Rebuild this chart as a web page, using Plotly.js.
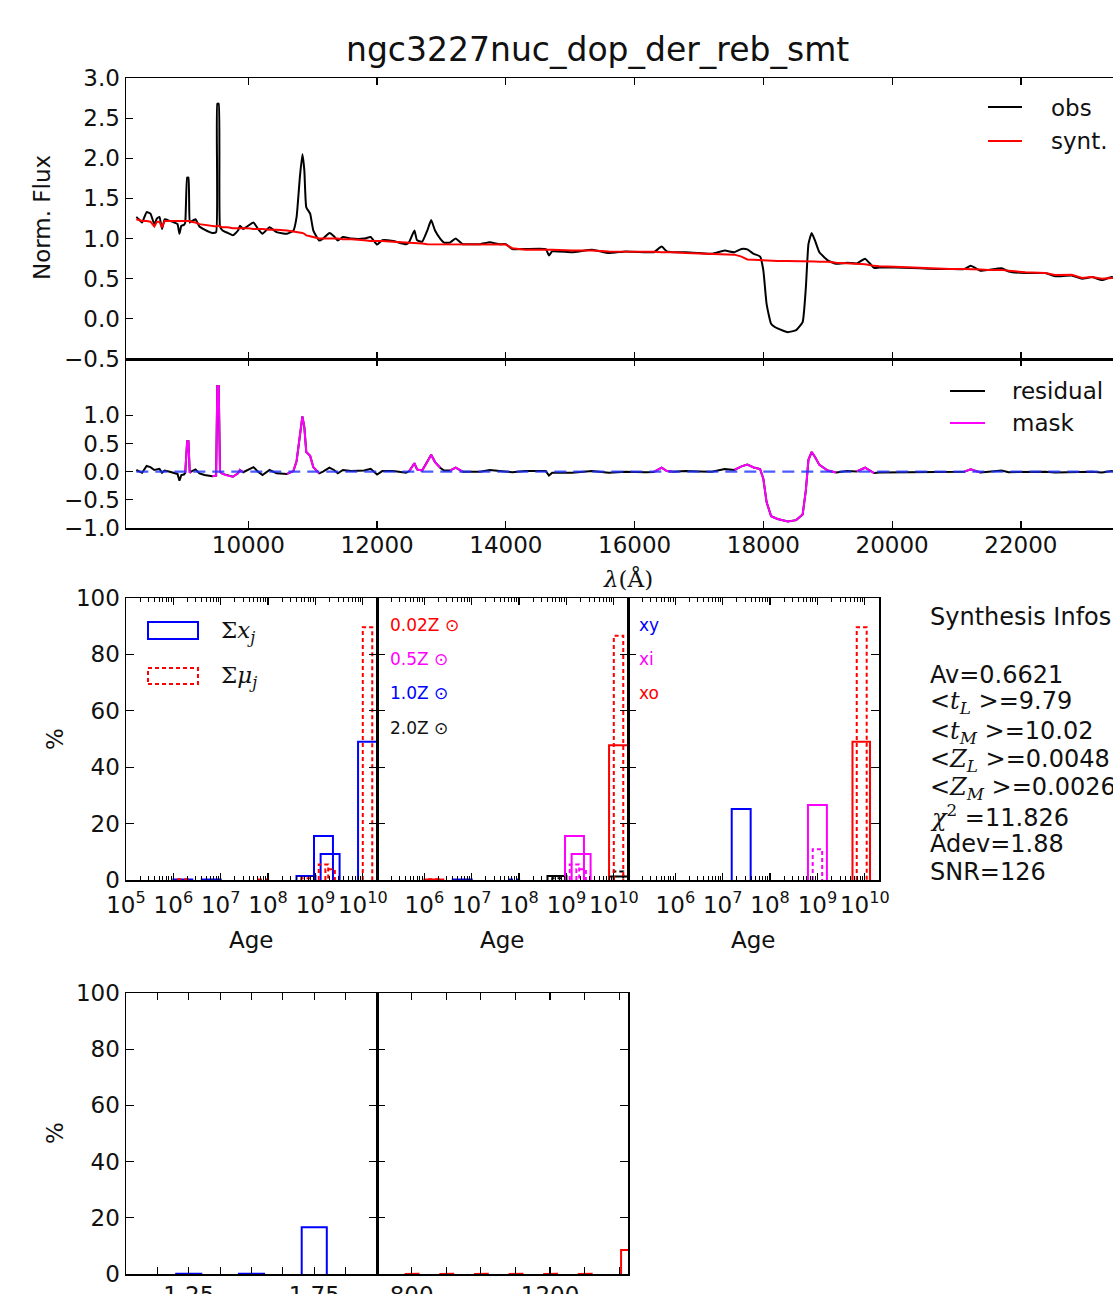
<!DOCTYPE html>
<html>
<head>
<meta charset="utf-8">
<script src="https://cdn.plot.ly/plotly-3.0.1.min.js"></script>
<style>
html,body{margin:0;padding:0;overflow:hidden;background:#fff;}
#chart{width:1195px;height:1340px;}
</style>
</head>
<body>
<div id="chart"></div>
<script>
// ---------------- DATA ----------------
// wavelength grid (Angstrom)
const lambda = [8260,8300,8350,8420,8480,8540,8580,8620,8660,8700,8780,8850,8900,8930,8960,9000,
  9020,9050,9070,9090,9110,9180,9240,9320,9400,9440,9500,9518,9540,9560,9600,9680,9760,9840,9870,9920,
  9980,10080,10150,10220,10330,10440,10600,10700,10750,10800,10840,10870,10900,10960,11010,11100,
  11160,11260,11330,11390,11470,11600,11800,11900,12000,12080,12250,12450,12500,12580,12620,12700,
  12780,12840,12900,12980,13040,13130,13220,13330,13400,13600,13750,13900,14000,14100,14300,14620,
  14670,14720,15030,15340,15600,15860,16170,16300,16420,16500,16600,16790,17000,17200,17400,17550,
  17660,17750,17850,17950,18000,18050,18120,18220,18380,18510,18610,18660,18700,18750,18800,18870,
  19000,19130,19300,19450,19580,19720,19800,20040,20300,20560,20900,21120,21220,21370,21500,21700,
  21810,22070,22380,22530,22790,22950,23100,23260,23410,23600,23800];
// observed normalised flux
const obsFlux = [1.27,1.24,1.20,1.33,1.31,1.18,1.25,1.27,1.12,1.24,1.22,1.20,1.18,1.06,1.16,1.17,
  1.20,1.76,1.76,1.20,1.21,1.24,1.15,1.11,1.08,1.07,1.08,2.68,2.68,1.15,1.10,1.07,1.04,1.10,1.16,1.12,
  1.15,1.20,1.12,1.06,1.14,1.08,1.06,1.10,1.27,1.76,2.05,1.85,1.39,1.31,1.10,0.975,
  1.00,1.07,1.03,0.975,1.02,1.00,1.00,1.02,0.925,0.98,0.97,0.93,0.96,1.10,0.98,0.96,
  1.10,1.23,1.10,1.00,0.95,0.95,1.00,0.93,0.93,0.93,0.955,0.93,0.93,0.87,0.87,0.87,
  0.79,0.84,0.83,0.86,0.82,0.84,0.83,0.83,0.90,0.84,0.83,0.83,0.82,0.81,0.85,0.83,
  0.87,0.865,0.81,0.776,0.60,0.187,-0.06,-0.12,-0.166,-0.14,-0.04,0.39,0.93,1.07,0.98,0.83,
  0.73,0.685,0.70,0.69,0.75,0.635,0.64,0.64,0.635,0.625,0.62,0.62,0.66,0.60,0.61,0.63,
  0.59,0.57,0.57,0.53,0.54,0.50,0.52,0.485,0.52,0.50,0.49];
// synthetic spectrum
const syntFlux = [1.24,1.23,1.22,1.22,1.21,1.15,1.21,1.21,1.14,1.22,1.22,1.22,1.22,1.22,1.22,1.22,
  1.22,1.22,1.22,1.22,1.21,1.20,1.18,1.17,1.16,1.15,1.15,1.16,1.16,1.15,1.14,1.14,1.13,1.13,1.13,1.13,
  1.13,1.12,1.12,1.12,1.11,1.11,1.10,1.09,1.08,1.08,1.07,1.06,1.04,1.03,1.02,1.00,
  1.00,1.00,1.00,1.00,0.99,0.99,0.98,0.97,0.97,0.97,0.96,0.95,0.95,0.95,0.94,0.94,
  0.93,0.93,0.93,0.93,0.93,0.93,0.93,0.93,0.93,0.93,0.93,0.925,0.925,0.88,0.86,0.86,
  0.86,0.86,0.85,0.85,0.84,0.84,0.84,0.835,0.83,0.83,0.83,0.82,0.815,0.81,0.805,0.80,
  0.775,0.74,0.735,0.73,0.73,0.73,0.73,0.72,0.72,0.72,0.72,0.72,0.72,0.72,0.715,0.71,
  0.71,0.70,0.69,0.685,0.68,0.66,0.655,0.65,0.64,0.625,0.62,0.62,0.62,0.615,0.61,0.61,
  0.60,0.58,0.57,0.545,0.55,0.51,0.52,0.50,0.51,0.50,0.49];
// residual (obs - synt)
const residual = [0.03,0.01,-0.02,0.10,0.08,0.03,0.04,0.05,-0.02,0.02,0.00,-0.02,-0.04,-0.16,-0.06,-0.05,
  -0.02,0.54,0.54,-0.02,0.00,0.04,-0.03,-0.06,-0.08,-0.08,-0.07,1.52,1.52,0.00,-0.04,-0.07,-0.09,-0.03,0.03,-0.01,
  0.02,0.08,0.00,-0.06,0.03,-0.03,-0.04,0.01,0.19,0.68,0.98,0.79,0.35,0.28,0.08,-0.03,
  0.00,0.07,0.03,-0.03,0.03,0.01,0.02,0.05,-0.05,0.01,0.01,-0.02,0.01,0.15,0.04,0.02,
  0.17,0.30,0.17,0.07,0.02,0.02,0.07,0.00,0.00,0.00,0.03,0.01,0.01,-0.01,0.01,0.01,
  -0.07,-0.02,-0.02,0.01,-0.02,0.00,-0.01,-0.005,0.07,0.01,0.00,0.01,0.005,0.00,0.045,0.03,
  0.095,0.125,0.075,0.046,-0.13,-0.54,-0.79,-0.84,-0.886,-0.86,-0.76,-0.33,0.21,0.35,0.265,0.12,
  0.02,-0.015,0.01,0.005,0.07,-0.025,-0.015,-0.01,-0.005,0.0,0.0,0.0,0.04,-0.015,0.0,0.02,
  -0.01,-0.01,0.0,-0.015,-0.01,-0.01,0.0,-0.015,0.01,0.0,0.0];
// 1 = masked pixel
const maskFlag = [0,0,0,0,0,0,0,0,0,0,0,0,0,0,0,0,
  1,1,1,1,1,0,0,0,0,1,1,1,1,1,1,1,1,1,1,1,
  0,0,0,0,0,0,1,1,1,1,1,1,1,1,1,1,
  0,0,0,0,0,0,0,0,0,0,0,0,1,1,1,1,
  1,1,1,1,0,1,1,1,0,0,0,0,0,0,0,0,
  0,0,0,0,0,0,0,1,1,1,1,0,0,0,0,1,
  1,1,1,1,1,1,1,1,1,1,1,1,1,1,1,1,
  1,1,0,1,1,1,0,0,0,0,0,1,1,1,0,0,
  0,0,0,0,0,0,0,0,0,0,0];

const specTicks = [10000,12000,14000,16000,18000,20000,22000];

// Population histograms (log age of bin centre, percent)
const allX_age  = [6.2, 6.8, 8.8, 9.17, 9.31, 10.1];
const allX_pct  = [0.2, 0.2, 1.4, 15.6, 9.2, 49.0];
const allMu_age = [6.2, 7.9, 8.8, 9.17, 9.31, 10.1];
const allMu_pct = [0.3, 0.2, 0.6, 5.5, 3.8, 89.6];

const z002X_age = [6.2, 10.1];   const z002X_pct = [0.2, 47.8];
const z002Mu_age = [6.2, 10.1];  const z002Mu_pct = [0.3, 86.6];
const z05X_age = [9.17, 9.31];   const z05X_pct = [15.6, 9.2];
const z05Mu_age = [9.17, 9.31];  const z05Mu_pct = [5.5, 3.8];
const z10X_age = [6.8];          const z10X_pct = [0.2];
const z10Mu_age = [7.9];         const z10Mu_pct = [0.2];
const z20X_age = [8.8, 10.1];    const z20X_pct = [1.4, 1.2];
const z20Mu_age = [8.8, 10.1];   const z20Mu_pct = [0.6, 3.0];

const xyX_age = [7.39];   const xyX_pct = [25.2];
const xiX_age = [9.0];    const xiX_pct = [26.6];
const xiMu_age = [9.0];   const xiMu_pct = [10.9];
const xoX_age = [9.925];  const xoX_pct = [49.0];
const xoMu_age = [9.935]; const xoMu_pct = [89.6];

const ageTickVals = [1e5,1e6,1e7,1e8,1e9,1e10];
const ageTickText1 = ['10<sup>5</sup>','10<sup>6</sup>','10<sup>7</sup>','10<sup>8</sup>','10<sup>9</sup>','10<sup>10</sup>'];
const ageTickText2 = ['','10<sup>6</sup>','10<sup>7</sup>','10<sup>8</sup>','10<sup>9</sup>','10<sup>10</sup>'];

// lower panels
const lowA_val = [1.25, 1.5, 1.75];  const lowA_pct = [0.1, 0.1, 16.6];
const lowB_val = [800, 900, 1000, 1100, 1200, 1300, 1425]; const lowB_pct = [0.05, 0.05, 0.05, 0.05, 0.05, 0.05, 8.5];
const lowATickVals = [1.125,1.25,1.375,1.5,1.625,1.75,1.875];
const lowATickText = ['','1.25','','','','1.75',''];
const lowBTickVals = [700,800,900,1000,1100,1200,1300,1400];
const lowBTickText = ['','800','','','','1200','',''];

const M = s => '<span style="font-family:DejaVu Serif">' + s + '</span>';
const infoLines = ['Synthesis Infos:', '', 'Av=0.6621',
  '&lt;' + M('<i>t</i><sub><i>L</i></sub>') + ' &gt;=9.79',
  '&lt;' + M('<i>t</i><sub><i>M</i></sub>') + ' &gt;=10.02',
  '&lt;' + M('<i>Z</i><sub><i>L</i></sub>') + ' &gt;=0.0048',
  '&lt;' + M('<i>Z</i><sub><i>M</i></sub>') + ' &gt;=0.0026',
  M('<i>χ</i><sup>2</sup>') + ' =11.826', 'Adev=1.88', 'SNR=126'];

// ---------------- LAYOUT HELPERS ----------------
const W = 1195, H = 1340;
const px = x => x / W;
const py = y => 1 - y / H;
const FONT = 'DejaVu Sans, sans-serif';
const SERIF = 'DejaVu Serif, serif';

function barPath(centres, pcts, width, isLog) {
  const xs = [], ys = [];
  centres.forEach((c, i) => {
    const a = c - width / 2, b = c + width / 2;
    const xa = isLog ? Math.pow(10, a) : a, xb = isLog ? Math.pow(10, b) : b;
    xs.push(xa, xa, xb, xb, null);
    ys.push(0, pcts[i], pcts[i], 0, null);
  });
  return {x: xs, y: ys};
}
const SOLID_W = 0.4, DOT_W = 0.2;
function histTrace(centres, pcts, color, dotted, xa, ya, isLog, width) {
  const p = barPath(centres, pcts, width !== undefined ? width : (dotted ? DOT_W : SOLID_W), isLog);
  return {x: p.x, y: p.y, type: 'scatter', mode: 'lines', xaxis: xa, yaxis: ya, showlegend: false,
    hoverinfo: 'skip', connectgaps: false,
    line: {color: color, width: 2, dash: dotted ? '4px,3px' : 'solid'}};
}

const traces = [];
// spectrum
traces.push({x: lambda, y: obsFlux, type: 'scatter', mode: 'lines', xaxis: 'x', yaxis: 'y',
  line: {color: 'black', width: 2, shape: 'spline', smoothing: 0.4}, showlegend: false});
traces.push({x: lambda, y: syntFlux, type: 'scatter', mode: 'lines', xaxis: 'x', yaxis: 'y',
  line: {color: '#ff0000', width: 2}, showlegend: false});
// residual
traces.push({x: lambda, y: residual, type: 'scatter', mode: 'lines', xaxis: 'x2', yaxis: 'y2',
  line: {color: 'black', width: 2}, showlegend: false});
traces.push({x: lambda, y: residual.map((r, i) => maskFlag[i] ? r : null), type: 'scatter', mode: 'lines',
  xaxis: 'x2', yaxis: 'y2', connectgaps: false, line: {color: '#ff00ff', width: 2}, showlegend: false});
traces.push({x: [lambda[0], lambda[lambda.length - 1]], y: [0, 0], type: 'scatter', mode: 'lines',
  xaxis: 'x2', yaxis: 'y2', line: {color: 'rgba(30,50,255,0.8)', width: 2.2, dash: '12px,7px'}, showlegend: false});

// histogram panel 1
traces.push(histTrace(allX_age, allX_pct, '#0000ff', false, 'x3', 'y3', true));
traces.push(histTrace(allMu_age, allMu_pct, '#ff0000', true, 'x3', 'y3', true));
// panel 2 by metallicity
traces.push(histTrace(z10X_age, z10X_pct, '#0000ff', false, 'x4', 'y4', true));
traces.push(histTrace(z10Mu_age, z10Mu_pct, '#0000ff', true, 'x4', 'y4', true));
traces.push(histTrace(z20X_age, z20X_pct, 'black', false, 'x4', 'y4', true));
traces.push(histTrace(z20Mu_age, z20Mu_pct, 'black', true, 'x4', 'y4', true));
traces.push(histTrace(z05X_age, z05X_pct, '#ff00ff', false, 'x4', 'y4', true));
traces.push(histTrace(z05Mu_age, z05Mu_pct, '#ff00ff', true, 'x4', 'y4', true));
traces.push(histTrace(z002X_age, z002X_pct, '#ff0000', false, 'x4', 'y4', true));
traces.push(histTrace(z002Mu_age, z002Mu_pct, '#ff0000', true, 'x4', 'y4', true));
// panel 3 xy / xi / xo
traces.push(histTrace(xyX_age, xyX_pct, '#0000ff', false, 'x5', 'y5', true));
traces.push(histTrace(xiX_age, xiX_pct, '#ff00ff', false, 'x5', 'y5', true));
traces.push(histTrace(xiMu_age, xiMu_pct, '#ff00ff', true, 'x5', 'y5', true));
traces.push(histTrace(xoX_age, xoX_pct, '#ff0000', false, 'x5', 'y5', true, 0.37));
traces.push(histTrace(xoMu_age, xoMu_pct, '#ff0000', true, 'x5', 'y5', true, 0.21));
// lower panels
traces.push(histTrace(lowA_val, lowA_pct, '#0000ff', false, 'x6', 'y6', false, 0.1));
traces.push(histTrace(lowB_val, lowB_pct, '#ff0000', false, 'x7', 'y7', false, 40));

// ---------------- AXES ----------------
const tickFont = {family: FONT, size: 23, color: '#111'};
function ax(extra) {
  return Object.assign({showline: true, linecolor: 'black', linewidth: 1.5, mirror: 'ticks',
    ticks: 'inside', ticklen: 7, tickwidth: 1.2, tickcolor: 'black', showgrid: false, zeroline: false,
    tickfont: tickFont, fixedrange: true}, extra);
}
const minorLog = {ticks: 'inside', ticklen: 4, tickwidth: 1, tickcolor: 'black', dtick: 'D1', showgrid: false};
const specX = [px(126), px(1140)];
const histRow = [py(880), py(598)];
const lowRow = [py(1274), py(993)];

const layout = {
  width: W, height: H, margin: {l: 0, r: 0, t: 0, b: 0},
  paper_bgcolor: 'white', plot_bgcolor: 'white', showlegend: false,
  font: {family: FONT, size: 23, color: '#111'},
  xaxis: ax({domain: specX, anchor: 'y', range: [8100, 23850], tickvals: specTicks, showticklabels: false}),
  yaxis: ax({domain: [py(359), py(78)], anchor: 'x', range: [-0.5, 3.0], tick0: 0, dtick: 0.5, tickformat: '.1f'}),
  xaxis2: ax({domain: specX, anchor: 'y2', range: [8100, 23850], tickvals: specTicks, tickformat: 'd', ticklabelstandoff: -4}),
  yaxis2: ax({domain: [py(528), py(359)], anchor: 'x2', range: [-1, 2], tickvals: [-1, -0.5, 0, 0.5, 1], tickformat: '.1f'}),
  xaxis3: ax({domain: [px(126), px(377)], anchor: 'y3', type: 'log', range: [5, 10.3], tickvals: ageTickVals, ticktext: ageTickText1, minor: minorLog, ticklabelstandoff: 4}),
  yaxis3: ax({domain: histRow, anchor: 'x3', range: [0, 100], dtick: 20, ticklen: 8}),
  xaxis4: ax({domain: [px(377), px(628)], anchor: 'y4', type: 'log', range: [5, 10.3], tickvals: ageTickVals, ticktext: ageTickText2, minor: minorLog, ticklabelstandoff: 4}),
  yaxis4: ax({domain: histRow, anchor: 'x4', range: [0, 100], dtick: 20, ticklen: 8, showticklabels: false}),
  xaxis5: ax({domain: [px(628), px(879)], anchor: 'y5', type: 'log', range: [5, 10.3], tickvals: ageTickVals, ticktext: ageTickText2, minor: minorLog, ticklabelstandoff: 4}),
  yaxis5: ax({domain: histRow, anchor: 'x5', range: [0, 100], dtick: 20, ticklen: 8, showticklabels: false}),
  xaxis6: ax({domain: [px(126), px(377)], anchor: 'y6', range: [1.0, 2.0], tickvals: lowATickVals, ticktext: lowATickText}),
  yaxis6: ax({domain: lowRow, anchor: 'x6', range: [0, 100], dtick: 20, ticklen: 8}),
  xaxis7: ax({domain: [px(377), px(628)], anchor: 'y7', range: [700, 1425], tickvals: lowBTickVals, ticktext: lowBTickText}),
  yaxis7: ax({domain: lowRow, anchor: 'x7', range: [0, 100], dtick: 20, ticklen: 8, showticklabels: false}),
  annotations: [], shapes: []
};

function note(x, y, text, opts) {
  layout.annotations.push(Object.assign({xref: 'paper', yref: 'paper', x: px(x), y: py(y), text: text,
    showarrow: false, xanchor: 'center', yanchor: 'middle',
    font: {family: FONT, size: 23, color: '#111'}}, opts || {}));
}
function seg(x0, x1, y, color, dash) {
  layout.shapes.push({type: 'line', xref: 'paper', yref: 'paper', x0: px(x0), x1: px(x1), y0: py(y), y1: py(y),
    line: {color: color, width: 2, dash: dash || 'solid'}});
}
function box(x0, x1, y0, y1, color, dash) {
  layout.shapes.push({type: 'rect', xref: 'paper', yref: 'paper', x0: px(x0), x1: px(x1), y0: py(y1), y1: py(y0),
    line: {color: color, width: 2, dash: dash || 'solid'}, fillcolor: 'rgba(0,0,0,0)'});
}

// titles & labels
note(597, 50, 'ngc3227nuc_dop_der_reb_smt', {font: {family: FONT, size: 33, color: '#111'}});
note(42, 218, 'Norm. Flux', {textangle: -90});
note(628, 578, '<i>λ</i>(Å)', {font: {family: SERIF, size: 23, color: '#111'}});
note(55, 739, '%', {textangle: -90});
note(55, 1133, '%', {textangle: -90});
note(251, 940, 'Age'); note(502, 940, 'Age'); note(753, 940, 'Age');

// legends
seg(988, 1022, 107, 'black'); note(1049, 108, 'obs', {xanchor: 'left'});
seg(988, 1022, 141, '#ff0000'); note(1049, 141, 'synt.', {xanchor: 'left'});
seg(950, 985, 391, 'black'); note(1010, 391, 'residual', {xanchor: 'left'});
seg(950, 985, 423, '#ff00ff'); note(1010, 423, 'mask', {xanchor: 'left'});
box(148, 198, 622, 639, '#0000ff');
box(148, 198, 668, 684, '#ff0000', '4px,3px');
note(219, 632, 'Σ<i>x</i><sub><i>j</i></sub>', {xanchor: 'left', font: {family: SERIF, size: 23, color: '#111'}});
note(219, 677, 'Σ<i>μ</i><sub><i>j</i></sub>', {xanchor: 'left', font: {family: SERIF, size: 23, color: '#111'}});

const zLabels = [['0.02Z ⊙', '#ff0000', 625], ['0.5Z ⊙', '#ff00ff', 659], ['1.0Z ⊙', '#0000ff', 693], ['2.0Z ⊙', '#111', 728]];
zLabels.forEach(z => note(388, z[2], z[0], {xanchor: 'left', font: {family: FONT, size: 17, color: z[1]}}));
const xLabels = [['xy', '#0000ff', 625], ['xi', '#ff00ff', 659], ['xo', '#ff0000', 693]];
xLabels.forEach(z => note(637, z[2], z[0], {xanchor: 'left', font: {family: FONT, size: 17, color: z[1]}}));

const infoY = [617, 646, 675, 703, 732, 760, 788, 816, 844, 872];
infoLines.forEach((t, i) => { if (t) note(928, infoY[i], t, {xanchor: 'left', font: {family: FONT, size: 24, color: '#111'}}); });

Plotly.newPlot('chart', traces, layout, {staticPlot: true, displayModeBar: false});
</script>
</body>
</html>
